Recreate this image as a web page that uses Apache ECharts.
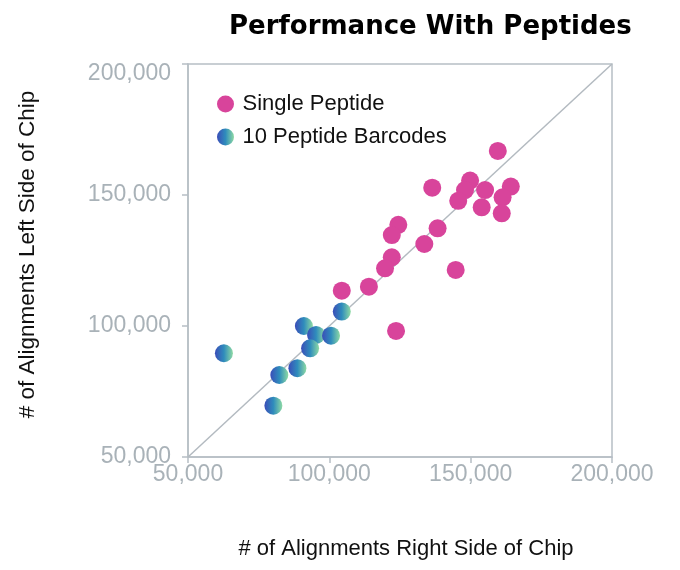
<!DOCTYPE html>
<html>
<head>
<meta charset="utf-8">
<script src="https://cdn.jsdelivr.net/npm/echarts@6/dist/echarts.min.js"></script>
<style>html,body{margin:0;padding:0;background:#fff;}#chart{width:680px;height:570px;}</style>
</head>
<body>
<div id="chart"></div>
<script>
const titleText = 'Performance With Peptides';
const xName = '# of Alignments Right Side of Chip';
const yName = '# of Alignments Left Side of Chip';
const seriesNames = ['Single Peptide', '10 Peptide Barcodes'];
const axisMin = 50000;
const axisMax = 200000;
const axisStep = 50000;

const singleX = [159600, 136400, 149800, 148000, 145600, 155100, 164200, 161300, 153900, 161000,
                 124400, 122100, 138300, 133600, 122100, 119700, 144700, 114000, 104400, 123600];
const singleY = [166800, 152800, 155500, 151900, 147800, 151900, 153200, 149100, 145300, 143000,
                 138600, 134700, 137300, 131300, 126200, 122000, 121400, 115000, 113500, 98100];

const barcodeX = [104400, 91000, 95300, 100600, 93200, 62700, 88700, 82300, 80200];
const barcodeY = [105500, 100000, 96600, 96300, 91500, 89600, 83900, 81300, 69600];

const zip = (xs, ys) => xs.map((x, i) => [x, ys[i]]);
const fmt = v => v.toLocaleString('en-US');

const gradient = {
  type: 'linear', x: 0, y: 0, x2: 1, y2: 0,
  colorStops: [
    { offset: 0, color: '#3a4db8' },
    { offset: 0.5, color: '#2f8cbc' },
    { offset: 1, color: '#8edaa4' }
  ]
};

const axisColor = '#b7bfc5';
const labelColor = '#a9b2b8';

const chart = echarts.init(document.getElementById('chart'), null, { renderer: 'canvas' });
chart.setOption({
  animation: false,
  backgroundColor: '#ffffff',
  title: {
    text: titleText,
    left: 229, top: 14, padding: 0,
    textStyle: { fontFamily: 'DejaVu Sans', fontWeight: 'bold', fontSize: 26, color: '#000' }
  },
  legend: {
    orient: 'vertical',
    left: 212, top: 88,
    itemWidth: 24, itemHeight: 17, itemGap: 11,
    icon: 'circle',
    textStyle: { fontFamily: 'Liberation Sans', fontSize: 22, color: '#111' },
    data: seriesNames
  },
  grid: {
    left: 188, right: 68, top: 64, bottom: 113,
    show: true, borderColor: axisColor, borderWidth: 1.5, containLabel: false
  },
  xAxis: {
    type: 'value', min: axisMin, max: axisMax, interval: axisStep,
    name: xName, nameLocation: 'middle', nameGap: 81,
    nameTextStyle: { fontFamily: 'Liberation Sans', fontSize: 22, color: '#111', padding: [0, 0, 0, 12] },
    axisLine: { show: true, lineStyle: { color: axisColor, width: 1.5 } },
    axisTick: { show: true, length: 6, lineStyle: { color: axisColor, width: 1.5 } },
    axisLabel: { fontFamily: 'Liberation Sans', fontSize: 23, color: labelColor, margin: 6, formatter: fmt },
    splitLine: { show: false }
  },
  yAxis: {
    type: 'value', min: axisMin, max: axisMax, interval: axisStep,
    name: yName, nameLocation: 'middle', nameGap: 149,
    nameTextStyle: { fontFamily: 'Liberation Sans', fontSize: 22.5, color: '#111', padding: [0, 0, 0, 12] },
    axisLine: { show: true, lineStyle: { color: axisColor, width: 1.5 } },
    axisTick: { show: true, length: 6, lineStyle: { color: axisColor, width: 1.5 } },
    axisLabel: {
      fontFamily: 'Liberation Sans', fontSize: 23, color: labelColor, margin: 17,
      formatter: v => v === axisMax ? '{top|' + fmt(v) + '}' : fmt(v),
      rich: { top: { fontFamily: 'Liberation Sans', fontSize: 23, color: labelColor, padding: [20, 0, 0, 0] } }
    },
    splitLine: { show: false }
  },
  series: [
    {
      name: 'diagonal', type: 'line',
      data: [[axisMin, axisMin], [axisMax, axisMax]],
      symbol: 'none', silent: true,
      lineStyle: { color: '#b3bac0', width: 1.5 },
      z: 1
    },
    {
      name: seriesNames[1], type: 'scatter',
      data: zip(barcodeX, barcodeY),
      symbol: 'circle', symbolSize: 18,
      itemStyle: { color: gradient, opacity: 1 },
      z: 3
    },
    {
      name: seriesNames[0], type: 'scatter',
      data: zip(singleX, singleY),
      symbol: 'circle', symbolSize: 18,
      itemStyle: { color: '#d8449b', opacity: 1 },
      z: 3
    }
  ]
});
</script>
</body>
</html>
